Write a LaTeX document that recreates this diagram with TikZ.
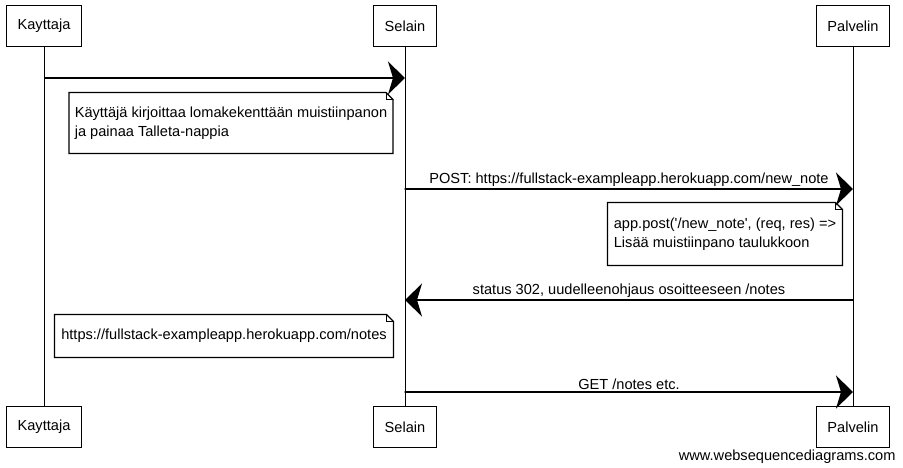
\documentclass[tikz,border=0pt]{standalone}
\usepackage{fontspec}
\setmainfont{Liberation Sans}
\usetikzlibrary{arrows.meta}

\begin{document}
\begin{tikzpicture}[%
        x = 1pt, y = -1pt,
        line width = 1pt,
        line cap = round,
        > = {Stealth[length = 17pt, width = 33pt, inset = 5pt]},
        font = \fontsize{14.6}{18.5}\selectfont,
        actor/.style = {draw, line width = 1.2pt, fill = white, minimum height = 41pt, inner sep = 0pt},
        note/.style = {fill = white, align = left, inner sep = 0pt},
        msg/.style = {->, line width = 1.3pt},
        label/.style = {above, inner sep = 1.5pt}
    ]

        \useasboundingbox (0, 0) rectangle (903, 468);

        % Boxes for the three participants, top and bottom.
        \node[actor, minimum width = 75pt] (kayttajaTop) at (44, 26) {Kayttaja};
        \node[actor, minimum width = 63pt] (selainTop) at (405, 26) {Selain};
        \node[actor, minimum width = 73pt] (palvelinTop) at (853, 26) {Palvelin};
        \node[actor, minimum width = 75pt] (kayttajaBot) at (44, 427) {Kayttaja};
        \node[actor, minimum width = 63pt] (selainBot) at (405, 427) {Selain};
        \node[actor, minimum width = 73pt] (palvelinBot) at (853, 427) {Palvelin};

        % Lifelines.
        \draw (kayttajaTop) to (kayttajaBot);
        \draw (selainTop) to (selainBot);
        \draw (palvelinTop) to (palvelinBot);

        % Notes beside the lifelines.
        \node[note, minimum width = 323pt, minimum height = 60pt] (note1) at (231, 123)
            {Käyttäjä kirjoittaa lomakekenttään muistiinpanon\\ja painaa Talleta-nappia};
        \node[note, minimum width = 234pt, minimum height = 62pt] (note2) at (725, 234)
            {app.post(\textquotesingle/new\_note\textquotesingle, (req, res) =>\\Lisää muistiinpano taulukkoon};
        \node[note, minimum width = 338pt, minimum height = 42pt] (note3) at (224, 336)
            {https://fullstack-exampleapp.herokuapp.com/notes};
        \foreach \n in {note1, note2, note3} {
            \draw[line width = 1.1pt] (\n.north west) to ([xshift = -7pt]\n.north east)
                to ([yshift = -7pt]\n.north east) to (\n.south east)
                to (\n.south west) to cycle;
            \draw[line width = 0.6pt] ([xshift = -7pt]\n.north east)
                to ([xshift = -7pt, yshift = -7pt]\n.north east) to ([yshift = -7pt]\n.north east);
        }

        % Points on the lifelines where the messages start and end.
        \coordinate (k1) at (45, 78);
        \coordinate (s1) at (405, 78);
        \coordinate (s2) at (405, 189);
        \coordinate (p2) at (853, 189);
        \coordinate (p3) at (853, 300);
        \coordinate (s3) at (405, 300);
        \coordinate (s4) at (405, 392);
        \coordinate (p4) at (853, 392);

        % Messages.
        \draw[msg] (k1) to (s1);
        \draw[msg] (s2) to node[label] {POST: https://fullstack-exampleapp.herokuapp.com/new\_note} (p2);
        \draw[msg] (p3) to node[label] {status 302, uudelleenohjaus osoitteeseen /notes} (s3);
        \draw[msg] (s4) to node[label] {GET /notes etc.} (p4);

        \node[anchor = east, inner sep = 0pt] (credit) at (896, 457) {www.websequencediagrams.com};
    \end{tikzpicture}
\end{document}
